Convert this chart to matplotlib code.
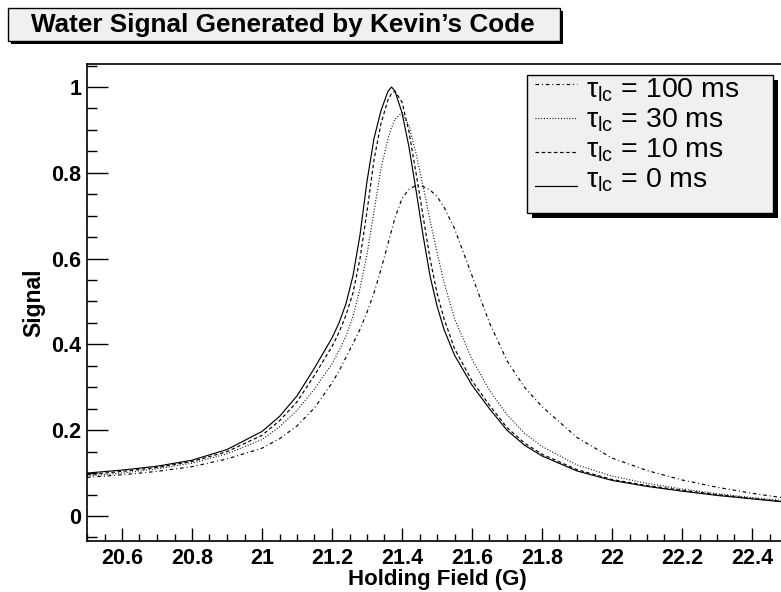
import matplotlib
matplotlib.use("Agg")
import matplotlib.pyplot as plt
from matplotlib.patches import Rectangle
from matplotlib.lines import Line2D
from matplotlib.ticker import MultipleLocator, FuncFormatter

plt.rcParams['font.family'] = ['Liberation Sans', 'DejaVu Sans']
plt.rcParams['mathtext.fontset'] = 'custom'
plt.rcParams['mathtext.rm'] = 'Liberation Sans'
plt.rcParams['mathtext.it'] = 'Liberation Sans:italic'

# holding field grid (G)
field = [20.50, 20.60, 20.70, 20.80, 20.90, 21.00, 21.05, 21.10, 21.15, 21.20,
         21.22, 21.24, 21.26, 21.28, 21.30, 21.32, 21.34, 21.36, 21.37, 21.38,
         21.40, 21.42, 21.44, 21.46, 21.48, 21.50, 21.52, 21.55, 21.60, 21.65,
         21.70, 21.75, 21.80, 21.90, 22.00, 22.10, 22.20, 22.30, 22.40, 22.50]

sig_0 = [0.100, 0.107, 0.116, 0.130, 0.155, 0.197, 0.232, 0.280, 0.345, 0.415,
         0.450, 0.495, 0.560, 0.655, 0.780, 0.880, 0.945, 0.990, 1.000, 0.990,
         0.940, 0.860, 0.760, 0.655, 0.560, 0.490, 0.435, 0.375, 0.305, 0.250,
         0.200, 0.165, 0.140, 0.105, 0.083, 0.069, 0.058, 0.048, 0.040, 0.032]

sig_10 = [0.096, 0.104, 0.113, 0.127, 0.150, 0.188, 0.222, 0.266, 0.328, 0.395,
          0.428, 0.468, 0.520, 0.600, 0.710, 0.830, 0.915, 0.970, 0.985, 0.990,
          0.965, 0.895, 0.800, 0.700, 0.600, 0.520, 0.460, 0.390, 0.315, 0.258,
          0.206, 0.170, 0.144, 0.108, 0.085, 0.071, 0.060, 0.050, 0.041, 0.033]

sig_30 = [0.093, 0.100, 0.110, 0.123, 0.145, 0.178, 0.208, 0.246, 0.296, 0.355,
          0.385, 0.420, 0.465, 0.530, 0.610, 0.710, 0.810, 0.880, 0.905, 0.925,
          0.940, 0.910, 0.845, 0.770, 0.690, 0.615, 0.545, 0.460, 0.365, 0.293,
          0.236, 0.193, 0.162, 0.119, 0.093, 0.076, 0.063, 0.052, 0.043, 0.035]

sig_100 = [0.090, 0.096, 0.104, 0.115, 0.133, 0.158, 0.180, 0.210, 0.252, 0.310,
           0.338, 0.370, 0.402, 0.435, 0.475, 0.520, 0.575, 0.635, 0.665, 0.695,
           0.740, 0.762, 0.770, 0.768, 0.760, 0.745, 0.720, 0.670, 0.560, 0.450,
           0.362, 0.300, 0.255, 0.183, 0.135, 0.106, 0.084, 0.067, 0.053, 0.041]

labels = [r'τ$_{\rm lc}$ = 100 ms', r'τ$_{\rm lc}$ = 30 ms',
          r'τ$_{\rm lc}$ = 10 ms', r'τ$_{\rm lc}$ = 0 ms']

W, H = 781, 592
fig = plt.figure(figsize=(W / 100, H / 100), dpi=100)
ax = fig.add_axes([87 / W, (H - 541) / H, 700 / W, 477 / H])

styles = [(0, (3, 2.5, 0.8, 2.5)), (0, (0.8, 1.6)), (0, (3, 2.2)), '-']
series = [sig_100, sig_30, sig_10, sig_0]
for s, ls in zip(series, styles):
    ax.plot(field, s, color='black', lw=0.85, linestyle=ls)

ax.set_xlim(20.5, 22.5)
ax.set_ylim(-0.0583, 1.0536)
ax.spines['right'].set_visible(False)
for sp in ax.spines.values():
    sp.set_linewidth(1.2)

fmt = FuncFormatter(lambda v, p: '%g' % round(v, 3))
ax.xaxis.set_major_locator(MultipleLocator(0.2))
ax.xaxis.set_minor_locator(MultipleLocator(0.05))
ax.yaxis.set_major_locator(MultipleLocator(0.2))
ax.yaxis.set_minor_locator(MultipleLocator(0.05))
ax.xaxis.set_major_formatter(fmt)
ax.yaxis.set_major_formatter(fmt)
ax.tick_params(axis='x', which='major', direction='in', length=9.5, width=1, pad=5, labelsize=15.5)
ax.tick_params(axis='x', which='minor', direction='in', length=5, width=1)
ax.tick_params(axis='y', which='major', direction='in', length=15, width=1, pad=4, labelsize=15.5)
ax.tick_params(axis='y', which='minor', direction='in', length=7.5, width=1)
for lab in ax.get_xticklabels() + ax.get_yticklabels():
    lab.set_fontweight('bold')

ax.set_xlabel('Holding Field (G)', fontsize=16, fontweight='bold', labelpad=0)
ax.set_ylabel('Signal', fontsize=16.5, fontweight='bold', labelpad=4)


def fig_box(x0, y0, x1, y1, shadow):
    # box given in pixels from the top left, with a black drop shadow
    fig.patches.append(Rectangle(((x0 + shadow) / W, (H - y1 - shadow) / H),
                                 (x1 - x0) / W, (y1 - y0) / H,
                                 transform=fig.transFigure, facecolor='black',
                                 edgecolor='black', lw=0, zorder=5))
    fig.patches.append(Rectangle((x0 / W, (H - y1) / H), (x1 - x0) / W, (y1 - y0) / H,
                                 transform=fig.transFigure, facecolor='#f0f0f0',
                                 edgecolor='black', lw=1, zorder=6))


# title box
fig_box(8, 8, 560, 41, 3)
fig.text(283 / W, 1 - 25 / H, 'Water Signal Generated by Kevin’s Code',
         ha='center', va='center', fontsize=18.8, fontweight='bold', zorder=7)

# legend box
fig_box(527, 75, 773, 213, 5)
sample_y = [84, 118, 152, 186]
text_base = [97, 128, 158, 188]
for ys, yt, ls, lab in zip(sample_y, text_base, styles, labels):
    fig.lines.append(Line2D([535 / W, 577 / W], [1 - ys / H, 1 - ys / H],
                            transform=fig.transFigure, color='black',
                            lw=0.85, linestyle=ls, zorder=7))
    fig.text(586 / W, 1 - yt / H, lab, ha='left', va='baseline', fontsize=20.5, zorder=7)

fig.savefig('out.png', dpi=100)
